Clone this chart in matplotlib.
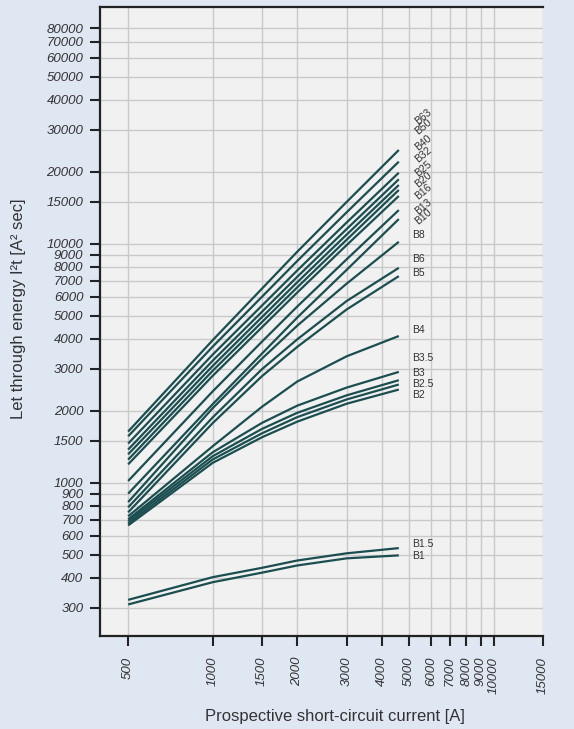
import matplotlib
matplotlib.use('Agg')
import matplotlib.pyplot as plt
from matplotlib.ticker import FixedLocator, FixedFormatter, NullLocator

# prospective current [A] at which the curves are read
currents = [500, 1000, 1500, 2000, 3000, 4600]

# let-through energy I2t [A2 s] per breaker rating
b63 = [1636, 3948, 6500, 9260, 14970, 24700]
b50 = [1563, 3710, 6010, 8470, 13550, 22070]
b40 = [1458, 3435, 5520, 7730, 12280, 19840]
b32 = [1375, 3240, 5200, 7270, 11530, 18620]
b25 = [1314, 3080, 4940, 6900, 10930, 17620]
b20 = [1248, 2940, 4710, 6570, 10400, 16800]
b16 = [1193, 2800, 4480, 6250, 9880, 15850]
b13 = [1016, 2410, 3900, 5460, 8610, 13840]
b10 = [899, 2130, 3475, 4910, 7780, 12690]
b8 = [829, 2050, 3310, 4540, 6810, 10190]
b6 = [788, 1875, 2990, 3980, 5760, 7930]
b5 = [751, 1775, 2795, 3700, 5310, 7320]
b4 = [723, 1420, 2080, 2650, 3380, 4110]
b3_5 = [702, 1340, 1780, 2100, 2500, 2908]
b3 = [690, 1290, 1680, 1960, 2320, 2684]
b2_5 = [675, 1250, 1610, 1880, 2230, 2575]
b2 = [662, 1210, 1550, 1800, 2140, 2453]
b1_5 = [323, 402, 440, 472, 506, 532]
b1 = [309, 383, 420, 450, 482, 496]

ratings = ['B63', 'B50', 'B40', 'B32', 'B25', 'B20', 'B16', 'B13', 'B10',
           'B8', 'B6', 'B5', 'B4', 'B3.5', 'B3', 'B2.5', 'B2', 'B1.5', 'B1']
curves = [b63, b50, b40, b32, b25, b20, b16, b13, b10,
          b8, b6, b5, b4, b3_5, b3, b2_5, b2, b1_5, b1]

# where each rating label sits (y, data units)
label_y = [34060, 30930, 26350, 23540, 20700, 18490, 16520, 14290, 12980,
           10880, 8600, 7560, 4350, 3310, 2880, 2600, 2338, 555, 491]
n_rotated = 9

x_ticks = [500, 1000, 1500, 2000, 3000, 4000, 5000, 6000, 7000, 8000, 9000, 10000, 15000]
y_ticks = [300, 400, 500, 600, 700, 800, 900, 1000, 1500, 2000, 3000, 4000, 5000,
           6000, 7000, 8000, 9000, 10000, 15000, 20000, 30000, 40000, 50000,
           60000, 70000, 80000]

bg = '#dfe7f3'
panel = '#f1f1f1'
line_color = '#1b4e50'
text_color = '#333333'
font = 'Liberation Sans'


def main():
    plt.rcParams['font.family'] = [font, 'DejaVu Sans']
    fig = plt.figure(figsize=(5.74, 7.29), dpi=100, facecolor=bg)
    ax = fig.add_axes([100 / 574, 1 - 636 / 729, 443 / 574, 629 / 729])
    ax.set_facecolor(panel)
    ax.set_xscale('log')
    ax.set_yscale('log')
    ax.set_xlim(397, 15000)
    ax.set_ylim(228, 98000)

    for values in curves:
        ax.plot(currents, values, color=line_color, lw=1.6, solid_capstyle='butt',
                solid_joinstyle='round', zorder=3)

    for i, (name, y) in enumerate(zip(ratings, label_y)):
        if i < n_rotated:
            ax.text(5600, y, name, rotation=40, ha='center', va='center',
                    fontsize=7.5, color=text_color, zorder=4)
        else:
            ax.text(5150, y, name, ha='left', va='center',
                    fontsize=7.5, color=text_color, zorder=4)

    ax.xaxis.set_major_locator(FixedLocator(x_ticks))
    ax.xaxis.set_major_formatter(FixedFormatter([str(v) for v in x_ticks]))
    ax.xaxis.set_minor_locator(NullLocator())
    ax.yaxis.set_major_locator(FixedLocator(y_ticks))
    ax.yaxis.set_major_formatter(FixedFormatter([str(v) for v in y_ticks]))
    ax.yaxis.set_minor_locator(NullLocator())

    ax.grid(True, which='major', color='#c9c9c9', lw=1.0, zorder=0)
    ax.set_axisbelow(True)

    ax.tick_params(axis='both', direction='out', length=7, width=1.5,
                   color='#222222', labelcolor=text_color, labelsize=9.5)
    ax.tick_params(axis='x', pad=8)
    ax.tick_params(axis='y', pad=5)
    for lbl in ax.get_xticklabels():
        lbl.set_rotation(90)
        lbl.set_style('italic')
    for lbl in ax.get_yticklabels():
        lbl.set_style('italic')

    for side in ['left', 'bottom', 'top']:
        ax.spines[side].set_color('#222222')
        ax.spines[side].set_linewidth(1.6)
    ax.spines['right'].set_visible(False)

    fig.text(335 / 574, 1 - 717 / 729, 'Prospective short-circuit current [A]',
             ha='center', va='center', fontsize=12, color=text_color)
    fig.text(19 / 574, 1 - 309 / 729, 'Let through energy I²t [A² sec]',
             ha='center', va='center', rotation=90, fontsize=12, color=text_color)

    fig.savefig('out.png', dpi=100, facecolor=bg)


if __name__ == '__main__':
    main()
